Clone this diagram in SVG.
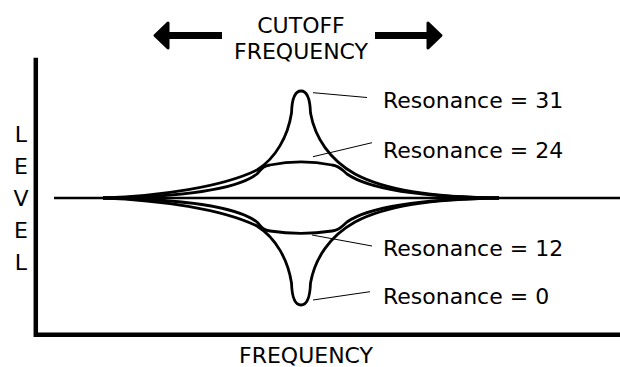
<svg xmlns="http://www.w3.org/2000/svg" width="620" height="367" viewBox="0 0 620 367">
<style>
text{font-family:"DejaVu Sans",Verdana,sans-serif;font-size:22px;fill:#000}
.curve{fill:none;stroke:#000;stroke-width:2.8;stroke-linejoin:round}
.lead{fill:none;stroke:#000;stroke-width:1}
.axis{fill:none;stroke:#000;stroke-width:4.5;stroke-linecap:square}
.arrow{fill:#000;stroke:#000;stroke-width:3;stroke-linejoin:round}
</style>
<rect width="620" height="367" fill="#fff"/>
<g id="axes">
<path class="axis" d="M35.8,60 V334.8 H620"/>
<line x1="54" y1="198" x2="620" y2="198" stroke="#000" stroke-width="2.4"/>
<text x="21" y="142" text-anchor="middle">L</text>
<text x="21" y="174" text-anchor="middle">E</text>
<text x="21" y="206" text-anchor="middle">V</text>
<text x="21" y="238" text-anchor="middle">E</text>
<text x="21" y="270" text-anchor="middle">L</text>
<text x="306" y="363" text-anchor="middle">FREQUENCY</text>
</g>
<g id="cutoff">
<polygon class="arrow" points="155,35.5 168,23 168,48"/>
<rect x="166" y="32" width="56" height="7" fill="#000"/>
<polygon class="arrow" points="441,35.5 428,23 428,48"/>
<rect x="375" y="32" width="55" height="7" fill="#000"/>
<text x="301" y="33" text-anchor="middle">CUTOFF</text>
<text x="301" y="59" text-anchor="middle">FREQUENCY</text>
</g>
<g id="curves">
<path id="r31" class="curve" d="M103,198 C160,196 222,187 257,170 C276,158 288,136 291.5,113 C292,97 296,91 301,91 C306,91 310,97 310.5,113 C315,138 330,160 355,174 C385,190 430,197 499,198"/>
<path id="r24" class="curve" d="M103,198 C175,197 236,190 257,174 C261,170 262,166 270,165 C290,161 312,161 332,165 C340,166 342,170 347,174 C370,190 425,197 499,198"/>
<path id="r12" class="curve" d="M103,198 C175,199 236,206 257,222 C261,226 262,230 270,231 C290,234 312,234 332,231 C340,230 342,226 347,222 C370,206 425,199 499,198"/>
<path id="r0" class="curve" d="M103,198 C160,200 222,209 257,226 C276,238 288,260 291.5,283 C292,299 296,305 301,305 C306,305 310,299 310.5,283 C315,258 330,236 355,222 C385,206 430,199 499,198"/>
</g>
<g id="connectors">
<line class="lead" x1="313" y1="92.7" x2="367" y2="97.5"/>
<line class="lead" x1="313" y1="156.7" x2="372" y2="142.7"/>
<line class="lead" x1="312" y1="235" x2="372" y2="246"/>
<line class="lead" x1="313" y1="300" x2="370" y2="291.7"/>
</g>
<g id="labels">
<text x="383" y="108">Resonance = 31</text>
<text x="383" y="158">Resonance = 24</text>
<text x="383" y="256">Resonance = 12</text>
<text x="383" y="304">Resonance = 0</text>
</g>
</svg>
